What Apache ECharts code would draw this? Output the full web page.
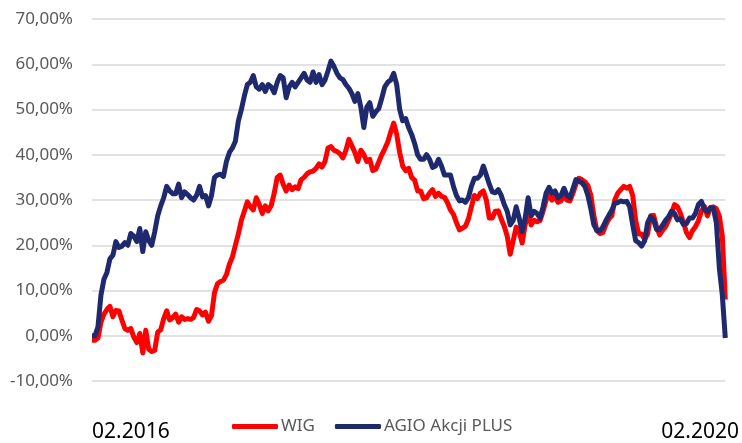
<!DOCTYPE html>
<html>
<head>
<meta charset="utf-8">
<script src="https://cdn.jsdelivr.net/npm/echarts@6/dist/echarts.min.js"></script>
<style>
html,body{margin:0;padding:0;background:#fff;}
#chart{width:742px;height:443px;}
</style>
</head>
<body>
<div id="chart"></div>
<script>
// Series names
const seriesNames = ['WIG', 'AGIO Akcji PLUS'];

// X-axis tick labels (first and last date shown)
const xTickLabels = ['02.2016', '02.2020'];

// Y-axis range (percent)
const yMin = -10, yMax = 70, yStep = 10;

// WIG cumulative return (%), evenly spaced observations 02.2016 -> 02.2020
const wig = [
  -1, -1, -0.5, 3, 4.8, 5.8, 6.5, 4.2, 5.6, 5.5,
  3.5, 1.6, 1.2, 1.6, -0.3, -1.5, 0.5, -3.8, 1.2, -3,
  -3.5, -3.2, 0.8, 1.3, 3.8, 5.5, 3.5, 4, 4.8, 3,
  4.2, 3.6, 3.8, 3.6, 4, 5.8, 5.5, 4.6, 5.2, 3.2,
  4.5, 9.5, 11.5, 12, 12.3, 13.5, 15.8, 17.4, 20, 22.5,
  25.5, 27.5, 29.6, 28.5, 27.8, 30.5, 29, 27, 28.7, 27.6,
  28.8, 31.5, 35, 35.5, 33.5, 32, 33.3, 32.3, 32.9, 32.5,
  34.5, 35, 35.8, 36.2, 36.4, 37, 38, 37.3, 38.5, 41.5,
  41.8, 41, 40.7, 40.2, 39.3, 41, 43.4, 42, 40.5, 38.5,
  41, 40, 38.5, 39, 36.5, 36.8, 38.4, 40, 41.3, 42.8,
  45, 47, 44.5, 40.5, 37.5, 36.5, 37, 35, 34.4, 32,
  32, 30.3, 30.5, 31.5, 32.3, 30.8, 31.5, 30.8, 30.6, 29.4,
  27.8, 26.8, 25, 23.4, 23.8, 24.2, 25.8, 28.5, 31, 30.3,
  31.5, 32, 30, 26, 26, 27.5, 27.6, 25.8, 24.2, 22,
  18, 21, 24, 23, 20.5, 24.5, 27.5, 24.5, 25.5, 25.2,
  25.5, 27.5, 30, 31, 30, 30.8, 29.5, 29.8, 31, 30,
  29.8, 31.5, 33.5, 34.8, 34.5, 34, 33.2, 31, 26.5, 23.2,
  22.6, 22.8, 24.5, 25.8, 26.5, 30, 31.5, 32.3, 33, 32.6,
  33, 31, 25.5, 22.5, 22.5, 21.3, 22.5, 26.5, 26.6, 24,
  22.3, 23.3, 24.1, 25.5, 27, 29, 28.5, 27, 25, 22.8,
  21.7, 23.2, 24.1, 25.4, 27.5, 28.6, 26.5, 28.3, 28.5, 28.1,
  26.5, 22, 8
];

// AGIO Akcji PLUS cumulative return (%)
const agio = [
  0, 0, 2, 9, 12.5, 14, 17, 17.8, 20.8, 19.5,
  19.8, 20.6, 20, 22.6, 22, 20.8, 23.7, 18.6, 23, 21,
  20, 23, 26.5, 28.7, 30.5, 33, 32, 31.4, 31.4, 33.5,
  30.5, 31.8, 31.2, 30.5, 30, 31, 33, 30.7, 31, 28.7,
  31, 35, 35.5, 35.7, 35.2, 38.5, 40.5, 41.5, 43, 47.5,
  50, 53, 55.5, 56, 57.5, 55, 54.5, 55.5, 54, 55.5,
  55, 53.7, 56, 57.5, 57, 52.6, 55, 56, 55, 56,
  57, 58, 56.5, 56, 58.3, 56, 57.7, 55.5, 56.5, 58.5,
  60.7, 59.5, 58, 57, 56.6, 55.5, 54.7, 53.5, 51.8, 53.5,
  50.5, 46, 50.5, 51.5, 48.5, 49.5, 50.2, 52.5, 55, 56,
  56.5, 58, 55.5, 50, 47.5, 48, 46, 44.5, 42.5, 40,
  39, 39, 40, 39, 37.2, 37.5, 39, 37.5, 35.5, 35.5,
  35.5, 33, 31, 29.8, 30, 29.5, 30.5, 33, 34.8, 34.8,
  35.5, 37.5, 35.5, 33.5, 31.8, 31.6, 32.3, 31, 29, 27.5,
  24.5, 25.5, 28.5, 26, 23, 26, 30.5, 26.5, 27.5, 27,
  26, 28.5, 31.5, 32.8, 31.5, 32, 30.5, 31, 32.6, 31,
  30.5, 32.5, 34.5, 34.2, 33.8, 33, 31, 28, 24.5, 23.3,
  23.2, 24, 25.4, 26.6, 27.7, 29.3, 29.4, 29.8, 29.6, 29.7,
  28.5, 24.5, 21, 20.6, 19.8, 21, 25, 26.3, 25.6, 23.5,
  23.5, 24.4, 25.5, 26.3, 27.5, 27, 25.6, 25.8, 24.6, 24.8,
  26, 26, 27, 29, 29.7, 28, 27.4, 28.3, 28.2, 25,
  15, 9, -0.5
];

const categories = wig.map((_, i) => i);
const lastIdx = categories.length - 1;

const chart = echarts.init(document.getElementById('chart'), null, {renderer: 'canvas'});
const FONT = 'Noto Sans';

chart.setOption({
  animation: false,
  backgroundColor: '#ffffff',
  grid: {left: 92, right: 13, top: 19, bottom: 60, containLabel: false},
  legend: {
    data: seriesNames,
    left: 227,
    top: 413,
    icon: 'roundRect',
    itemWidth: 46,
    itemHeight: 5,
    itemGap: 20,
    textStyle: {color: '#595959', fontSize: 17, fontFamily: FONT, padding: [0, 0, 0, -2]}
  },
  xAxis: {
    type: 'category',
    data: categories,
    boundaryGap: false,
    axisLine: {show: false},
    axisTick: {show: false},
    splitLine: {show: false},
    axisLabel: {
      interval: (i) => i === 0 || i === lastIdx,
      margin: 41,
      color: '#000000',
      fontSize: 21,
      fontFamily: FONT,
      alignMinLabel: 'left',
      alignMaxLabel: 'center',
      formatter: (v) => {
        const idx = Number(v);
        if (idx === 0) return xTickLabels[0];
        if (idx === lastIdx) return '{r|' + xTickLabels[1] + '}';
        return '';
      },
      rich: {
        r: {width: 128, align: 'left', color: '#000000', fontSize: 21, fontFamily: FONT}
      }
    }
  },
  yAxis: {
    type: 'value',
    min: yMin,
    max: yMax,
    interval: yStep,
    axisLine: {show: false},
    axisTick: {show: false},
    splitLine: {lineStyle: {color: '#d9d9d9', width: 1.5}},
    axisLabel: {
      margin: 19,
      color: '#595959',
      fontSize: 17,
      fontFamily: FONT,
      formatter: (v) => v.toFixed(2).replace('.', ',') + '%'
    }
  },
  series: [
    {
      name: seriesNames[0],
      type: 'line',
      data: wig,
      showSymbol: false,
      symbol: 'none',
      color: '#ff0000',
      lineStyle: {color: '#ff0000', width: 5, join: 'round'}
    },
    {
      name: seriesNames[1],
      type: 'line',
      data: agio,
      showSymbol: false,
      symbol: 'none',
      color: '#1f2a6e',
      lineStyle: {color: '#1f2a6e', width: 5, join: 'round'}
    }
  ]
});
</script>
</body>
</html>
